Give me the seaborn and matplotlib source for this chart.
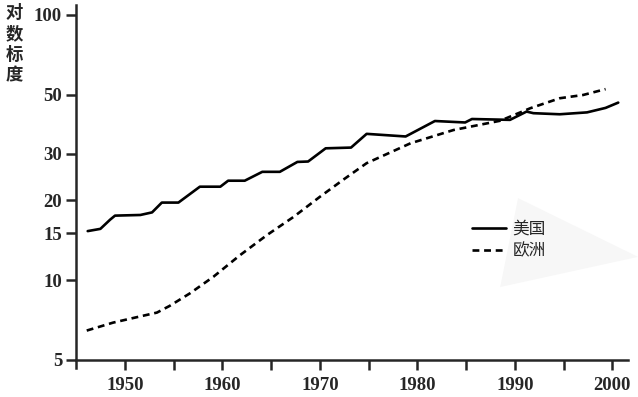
import pandas as pd
import matplotlib.pyplot as plt
import seaborn as sns
from matplotlib.ticker import NullLocator, FixedLocator
from matplotlib.patches import Polygon

# 美国 (solid)
us_year = [1946.2, 1947.5, 1948.5, 1949.0, 1951.6, 1952.8, 1953.8, 1955.5, 1957.7, 1959.8,
           1960.6, 1962.3, 1964.1, 1965.9, 1967.7, 1968.8, 1970.6, 1973.2, 1974.8, 1978.8,
           1981.8, 1984.9, 1985.6, 1989.5, 1991.2, 1991.9, 1994.6, 1997.4, 1999.3, 2000.6]
us_value = [15.3, 15.6, 16.9, 17.5, 17.6, 18.0, 19.6, 19.6, 22.5, 22.5,
            23.7, 23.7, 25.6, 25.6, 27.9, 28.0, 31.4, 31.6, 35.6, 34.8,
            39.8, 39.3, 40.5, 40.2, 43.2, 42.6, 42.2, 42.9, 44.6, 46.7]

# 欧洲 (dashed)
eu_year = [1946.1, 1948.8, 1951.2, 1953.3, 1954.6, 1956.7, 1959.1, 1961.8, 1964.6, 1967.3,
           1970.0, 1972.4, 1974.8, 1979.3, 1983.7, 1988.5, 1991.6, 1994.6, 1997.0, 1999.3]
eu_value = [6.45, 6.91, 7.24, 7.54, 7.99, 8.92, 10.3, 12.4, 14.8, 17.3,
            20.6, 23.9, 27.6, 32.8, 36.8, 39.9, 44.5, 48.5, 49.9, 52.5]

y_ticks = [5, 10, 15, 20, 30, 50, 100]
x_major = [1950, 1960, 1970, 1980, 1990, 2000]
x_minor = [1955, 1965, 1975, 1985, 1995]

df = pd.concat([
    pd.DataFrame({'年份': us_year, '值': us_value, '地区': '美国'}),
    pd.DataFrame({'年份': eu_year, '值': eu_value, '地区': '欧洲'}),
])

sns.set_style('ticks')
plt.rcParams['font.family'] = ['Liberation Serif', 'Noto Sans CJK SC', 'DejaVu Sans']

fig = plt.figure(figsize=(6.38, 3.97), dpi=100)
ax = fig.add_axes([76 / 638, 29 / 397, 552 / 638, 363 / 397])

# faint background arrow shape
tri = Polygon([(0.812, 0.501), (1.0, 0.353), (0.784, 0.277)], closed=True,
              transform=fig.transFigure, facecolor='#f7f7f7', edgecolor='none',
              zorder=0, clip_on=False)
ax.add_patch(tri)

sns.lineplot(data=df, x='年份', y='值', style='地区', estimator=None, sort=False,
             dashes={'美国': '', '欧洲': (2.6, 1.8)}, color='black', linewidth=1.9, ax=ax)

ax.set_yscale('log')
ax.set_xlim(1945, 2001.6)
ax.set_ylim(4.66, 109)
ax.spines['right'].set_visible(False)
ax.spines['top'].set_visible(False)
ax.spines['bottom'].set_position(('data', 5))
for s in ['left', 'bottom']:
    ax.spines[s].set_linewidth(1.8)

ax.yaxis.set_major_locator(FixedLocator(y_ticks))
ax.yaxis.set_minor_locator(NullLocator())
ax.set_yticklabels([str(t) for t in y_ticks])
ax.set_xticks(x_major)
ax.set_xticks(x_minor, minor=True)
ax.tick_params(axis='both', which='both', direction='out', length=7, width=1.8,
               labelsize=13.5, pad=3)
ax.tick_params(axis='x', which='both', pad=5)
for lab in ax.get_xticklabels() + ax.get_yticklabels():
    lab.set_fontweight('bold')

ax.set_xlabel('')
ax.set_ylabel('')

fig.text(0.022, 0.99, '对\n数\n标\n度', ha='center', va='top', fontsize=12.5,
         fontweight='bold', linespacing=1.2, family=['Noto Sans CJK SC', 'DejaVu Sans'])

leg = ax.legend(loc='center left', bbox_to_anchor=(464 / 638, 1 - 240 / 397),
                bbox_transform=fig.transFigure, frameon=False, fontsize=12,
                handlelength=2.0, handletextpad=0.4, labelspacing=0.3, borderpad=0)
leg.set_zorder(5)
for t in leg.get_texts():
    t.set_family(['Noto Sans CJK SC', 'DejaVu Sans'])
    t.set_fontweight('medium')

fig.savefig('out.png', dpi=100, facecolor='white')
